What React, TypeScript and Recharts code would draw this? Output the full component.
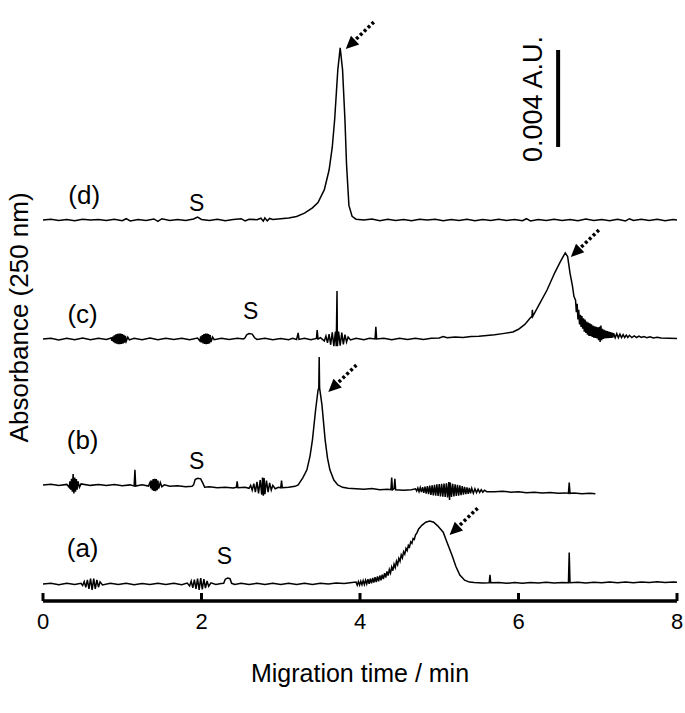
import React from 'react';
import { LineChart, Line, XAxis, YAxis, ReferenceLine, ReferenceDot, Label } from 'recharts';

const FONT = '"Liberation Sans", Arial, Helvetica, sans-serif';

// electropherograms, values in mAU relative to each trace's own baseline
const traceA: [number, number][] = [
  [0, 0], [0.1, 0.03], [0.2, -0.03], [0.3, 0.03], [0.4, -0.02], [0.48, 0.03],
  [0.5, -0.06], [0.52, 0.1], [0.54, -0.14], [0.56, 0.17], [0.58, -0.2], [0.6, 0.22], [0.62, -0.24], [0.64, 0.22],
  [0.66, -0.2], [0.68, 0.17], [0.7, -0.13], [0.72, 0.09], [0.75, -0.04],
  [0.85, 0.03], [0.95, -0.02], [1.05, 0.03], [1.15, -0.03], [1.25, 0.02], [1.35, -0.02], [1.45, 0.03], [1.55, -0.02],
  [1.65, 0.03], [1.75, -0.03], [1.82, 0.04],
  [1.85, -0.08], [1.87, 0.12], [1.89, -0.16], [1.91, 0.18], [1.93, -0.2], [1.95, 0.22], [1.97, -0.24], [1.99, 0.24],
  [2.01, -0.22], [2.03, 0.2], [2.05, -0.17], [2.07, 0.13], [2.09, -0.09], [2.12, 0.05], [2.18, -0.02], [2.25, 0.02],
  [2.28, 0.03], [2.3, 0.2], [2.33, 0.25], [2.36, 0.22], [2.38, 0.03], [2.42, -0.02],
  [2.5, 0.03], [2.6, -0.02], [2.7, 0.03], [2.8, -0.02], [2.9, 0.03], [3.0, -0.02], [3.1, 0.03], [3.2, -0.02],
  [3.3, 0.03], [3.4, -0.02], [3.5, 0.03], [3.6, 0.0], [3.7, 0.04], [3.8, 0.02], [3.9, 0.06],
  [3.95, 0.08], [3.965, -0.05], [3.98, 0.1], [3.995, -0.04], [4.01, 0.12], [4.025, -0.03], [4.04, 0.14], [4.055, -0.02],
  [4.07, 0.16], [4.085, 0.0], [4.1, 0.2], [4.115, 0.01], [4.13, 0.22], [4.145, 0.03], [4.16, 0.25], [4.175, 0.06],
  [4.19, 0.28], [4.205, 0.08], [4.22, 0.31], [4.235, 0.11], [4.25, 0.35], [4.265, 0.15], [4.28, 0.39], [4.295, 0.2],
  [4.31, 0.45], [4.325, 0.27], [4.34, 0.52], [4.355, 0.35], [4.37, 0.6], [4.385, 0.45], [4.4, 0.7], [4.415, 0.55],
  [4.43, 0.82], [4.445, 0.68], [4.46, 0.94], [4.475, 0.8], [4.49, 1.06], [4.505, 0.94], [4.52, 1.2], [4.535, 1.08],
  [4.55, 1.33], [4.565, 1.23], [4.58, 1.47], [4.595, 1.38], [4.61, 1.6], [4.625, 1.53], [4.64, 1.74], [4.655, 1.68],
  [4.67, 1.88], [4.685, 1.84], [4.7, 2.02], [4.72, 2.12], [4.74, 2.27], [4.78, 2.42], [4.83, 2.55], [4.88, 2.6],
  [4.93, 2.55], [4.98, 2.4], [5.05, 2.14], [5.1, 1.7], [5.16, 1.2], [5.21, 0.72], [5.26, 0.37], [5.32, 0.16],
  [5.38, 0.08], [5.44, 0.06], [5.55, 0.04], [5.63, 0.05], [5.64, 0.38], [5.65, 0.05], [5.75, 0.06], [5.85, 0.03],
  [5.95, 0.06], [6.05, 0.03], [6.15, 0.06], [6.25, 0.04], [6.35, 0.07], [6.45, 0.04], [6.55, 0.06], [6.63, 0.05],
  [6.64, 1.3], [6.65, 0.05], [6.75, 0.07], [6.85, 0.04], [6.95, 0.07], [7.05, 0.05], [7.15, 0.08], [7.25, 0.05],
  [7.35, 0.08], [7.45, 0.05], [7.55, 0.08], [7.65, 0.06], [7.75, 0.09], [7.85, 0.06], [7.95, 0.08], [8.0, 0.07],
];

const traceB: [number, number][] = [
  [0, 0], [0.1, 0.03], [0.2, -0.03], [0.3, 0.02],
  [0.33, -0.1], [0.34, 0.15], [0.35, -0.2], [0.36, 0.25], [0.37, -0.28], [0.38, 0.45], [0.39, -0.35], [0.4, 0.3],
  [0.41, -0.28], [0.42, 0.24], [0.43, -0.2], [0.44, 0.15], [0.46, -0.1], [0.48, 0.04],
  [0.6, -0.02], [0.7, 0.02], [0.8, -0.03], [0.9, 0.02], [1.0, -0.04], [1.1, 0.0], [1.15, -0.05], [1.16, 0.62],
  [1.17, -0.05], [1.25, 0.0], [1.33, -0.05],
  [1.35, 0.1], [1.36, -0.14], [1.37, 0.18], [1.38, -0.22], [1.39, 0.24], [1.4, -0.25], [1.41, 0.25], [1.42, -0.26],
  [1.43, 0.24], [1.44, -0.22], [1.45, 0.18], [1.46, -0.15], [1.48, 0.1], [1.5, -0.08], [1.53, 0.0],
  [1.6, -0.06], [1.7, -0.04], [1.8, -0.08], [1.88, -0.06], [1.9, 0.0], [1.92, 0.22], [1.95, 0.27], [1.99, 0.25],
  [2.02, 0.05], [2.04, -0.1], [2.1, -0.08], [2.2, -0.12], [2.3, -0.1], [2.4, -0.13], [2.44, -0.1], [2.45, 0.15],
  [2.46, -0.12], [2.55, -0.1],
  [2.6, -0.14], [2.62, -0.02], [2.64, -0.22], [2.66, 0.05], [2.68, -0.3], [2.7, 0.12], [2.72, -0.35], [2.74, 0.2],
  [2.76, -0.4], [2.77, 0.3], [2.78, -0.45], [2.79, 0.28], [2.8, -0.38], [2.82, 0.18], [2.84, -0.3], [2.86, 0.08],
  [2.88, -0.22], [2.9, -0.02], [2.93, -0.16], [2.97, -0.1],
  [3.0, -0.12], [3.01, 0.18], [3.02, -0.12], [3.1, -0.1], [3.18, -0.06], [3.22, 0.0], [3.28, 0.3], [3.33, 0.62],
  [3.37, 1.2], [3.4, 1.86], [3.44, 3.1], [3.47, 3.9], [3.48, 4.0], [3.485, 5.28], [3.49, 4.0], [3.52, 3.3],
  [3.56, 1.86], [3.59, 1.1], [3.62, 0.62], [3.67, 0.2], [3.72, 0.0], [3.78, -0.1], [3.85, -0.14], [3.95, -0.16],
  [4.05, -0.18], [4.15, -0.15], [4.25, -0.2], [4.35, -0.18], [4.39, -0.2], [4.4, 0.3], [4.41, -0.2], [4.43, -0.15],
  [4.44, 0.25], [4.45, -0.2], [4.55, -0.22], [4.65, -0.2],
  [4.7, -0.16], [4.715, -0.25], [4.73, -0.13], [4.745, -0.28], [4.76, -0.11], [4.775, -0.3], [4.79, -0.09],
  [4.805, -0.33], [4.82, -0.07], [4.835, -0.36], [4.85, -0.05], [4.865, -0.38], [4.88, -0.03], [4.895, -0.41],
  [4.91, -0.02], [4.925, -0.43], [4.94, 0.0], [4.955, -0.45], [4.97, 0.02], [4.985, -0.46], [5.0, 0.03],
  [5.015, -0.48], [5.03, 0.04], [5.045, -0.49], [5.06, 0.05], [5.075, -0.5], [5.09, 0.06], [5.105, -0.52],
  [5.12, 0.12], [5.13, -0.62], [5.14, 0.1], [5.155, -0.5], [5.17, 0.04], [5.185, -0.48], [5.2, 0.02], [5.215, -0.46],
  [5.23, 0.0], [5.245, -0.44], [5.26, -0.02], [5.275, -0.42], [5.29, -0.05], [5.305, -0.4], [5.32, -0.08],
  [5.335, -0.38], [5.35, -0.1], [5.365, -0.37], [5.38, -0.12], [5.395, -0.35], [5.41, -0.14], [5.43, -0.34],
  [5.45, -0.16], [5.47, -0.32], [5.49, -0.18], [5.51, -0.31], [5.53, -0.2], [5.55, -0.3], [5.57, -0.22], [5.6, -0.28],
  [5.7, -0.28], [5.8, -0.26], [5.9, -0.3], [6.0, -0.28], [6.1, -0.32], [6.2, -0.3], [6.3, -0.33], [6.4, -0.31],
  [6.5, -0.34], [6.6, -0.33], [6.63, -0.35], [6.64, 0.1], [6.65, -0.35], [6.7, -0.33], [6.8, -0.37], [6.9, -0.35],
  [6.97, -0.37],
];

const traceC: [number, number][] = [
  [0, 0], [0.1, 0.03], [0.2, -0.04], [0.3, 0.03], [0.4, -0.03], [0.5, 0.04], [0.6, -0.03], [0.7, 0.03], [0.8, -0.02],
  [0.86, 0.04],
  [0.87, -0.08], [0.88, 0.1], [0.89, -0.13], [0.9, 0.15], [0.91, -0.17], [0.92, 0.19], [0.93, -0.2], [0.94, 0.21],
  [0.95, -0.22], [0.96, 0.22], [0.97, -0.22], [0.98, 0.22], [0.99, -0.21], [1.0, 0.2], [1.01, -0.19], [1.02, 0.17],
  [1.03, -0.15], [1.04, 0.13], [1.05, -0.1], [1.07, 0.07], [1.09, -0.04],
  [1.15, 0.03], [1.25, -0.03], [1.35, 0.04], [1.45, -0.03], [1.55, 0.03], [1.65, -0.02], [1.75, 0.03], [1.85, -0.03],
  [1.95, 0.04],
  [1.98, -0.08], [1.99, 0.11], [2.0, -0.14], [2.01, 0.16], [2.02, -0.18], [2.03, 0.2], [2.04, -0.21], [2.05, 0.22],
  [2.06, -0.22], [2.07, 0.22], [2.08, -0.21], [2.09, 0.2], [2.1, -0.18], [2.11, 0.16], [2.12, -0.13], [2.14, 0.08],
  [2.16, -0.03],
  [2.25, 0.03], [2.35, -0.02], [2.45, 0.03], [2.53, 0.0],
  [2.55, 0.05], [2.57, 0.17], [2.6, 0.22], [2.64, 0.2], [2.67, 0.05], [2.7, -0.02],
  [2.8, 0.03], [2.9, -0.03], [3.0, 0.02], [3.1, -0.03], [3.15, 0.03], [3.2, -0.02], [3.22, 0.25], [3.23, -0.02],
  [3.3, 0.03], [3.38, -0.03], [3.45, 0.02], [3.46, 0.37], [3.47, 0.0], [3.5, 0.05],
  [3.55, -0.08], [3.57, 0.12], [3.59, -0.16], [3.61, 0.2], [3.63, -0.24], [3.65, 0.27], [3.67, -0.3], [3.69, 0.3],
  [3.7, -0.3], [3.71, 1.98], [3.715, -0.3], [3.73, 0.3], [3.75, -0.28], [3.77, 0.26], [3.79, -0.22], [3.81, 0.18],
  [3.83, -0.13], [3.85, 0.08], [3.88, -0.04],
  [3.95, 0.03], [4.05, -0.03], [4.12, 0.03], [4.19, 0.0], [4.2, 0.5], [4.21, 0.0], [4.3, 0.03], [4.4, -0.03],
  [4.5, 0.03], [4.6, -0.02], [4.7, 0.03], [4.8, -0.02], [4.9, 0.03], [5.0, 0.04], [5.05, 0.1], [5.1, 0.05],
  [5.2, 0.08], [5.3, 0.06], [5.4, 0.1], [5.5, 0.11], [5.6, 0.14], [5.7, 0.17], [5.8, 0.22], [5.93, 0.29],
  [6.0, 0.4], [6.08, 0.6], [6.15, 0.87], [6.17, 0.93], [6.175, 1.2], [6.18, 0.93], [6.25, 1.35], [6.36, 2.02],
  [6.46, 2.75], [6.53, 3.2], [6.59, 3.55], [6.62, 3.4], [6.65, 2.72], [6.68, 2.2], [6.7, 1.75],
  [6.72, 1.6], [6.73, 1.1], [6.74, 1.45], [6.75, 0.8], [6.76, 1.2], [6.77, 0.6], [6.78, 1.0], [6.79, 0.5],
  [6.8, 0.95], [6.81, 0.42], [6.82, 0.85], [6.83, 0.3], [6.84, 0.8], [6.85, 0.25], [6.86, 0.72], [6.87, 0.18],
  [6.88, 0.68], [6.89, 0.12], [6.9, 0.65], [6.91, 0.12], [6.92, 0.6], [6.93, 0.08], [6.94, 0.55], [6.95, 0.05],
  [6.96, 0.52], [6.97, 0.04], [6.98, 0.5], [6.99, 0.02], [7.0, 0.48], [7.01, -0.05], [7.02, 0.5], [7.03, -0.12],
  [7.04, 0.55], [7.05, -0.05], [7.06, 0.42], [7.07, 0.0], [7.08, 0.38], [7.09, 0.02], [7.1, 0.35], [7.11, 0.03],
  [7.12, 0.32], [7.13, 0.03], [7.14, 0.3], [7.15, 0.04], [7.16, 0.28], [7.17, 0.04], [7.18, 0.26], [7.19, 0.05],
  [7.2, 0.24], [7.22, 0.05], [7.24, 0.22], [7.26, 0.05], [7.28, 0.2], [7.3, 0.06], [7.32, 0.18], [7.34, 0.06],
  [7.36, 0.16], [7.38, 0.06], [7.4, 0.15], [7.43, 0.06], [7.46, 0.13], [7.49, 0.06], [7.52, 0.12], [7.55, 0.06],
  [7.58, 0.1], [7.62, 0.05], [7.66, 0.09], [7.7, 0.04], [7.75, 0.07], [7.8, 0.04], [7.9, 0.03], [8.0, 0.02],
];

const traceD: [number, number][] = [
  [0, 0], [0.1, 0.03], [0.2, -0.02], [0.3, 0.02], [0.4, -0.03], [0.5, 0.03], [0.6, 0], [0.7, 0.02], [0.8, -0.02],
  [0.9, 0.03], [1.0, -0.03], [1.05, 0.05], [1.1, -0.04], [1.2, 0.02], [1.3, -0.02], [1.4, 0.04], [1.45, -0.06],
  [1.5, 0.05], [1.6, -0.02], [1.7, 0.02], [1.8, -0.02], [1.9, 0.04], [1.95, 0.12], [2.0, 0.02], [2.1, -0.02],
  [2.2, 0.03], [2.3, -0.03], [2.4, 0.02], [2.5, 0.05], [2.55, -0.04], [2.6, 0.03], [2.7, 0.01], [2.75, 0.07],
  [2.78, -0.05], [2.8, 0.08], [2.83, -0.04], [2.86, 0.06], [2.9, 0.02], [3.0, 0.05], [3.1, 0.08], [3.2, 0.14],
  [3.3, 0.28], [3.4, 0.5], [3.47, 0.72], [3.55, 1.25], [3.61, 2.06], [3.65, 3.0], [3.68, 4.13], [3.72, 6.19],
  [3.75, 7.1], [3.78, 6.19], [3.81, 4.13], [3.83, 2.3], [3.86, 0.6], [3.9, 0.15], [3.95, 0.03], [4.05, 0.0],
  [4.15, 0.04], [4.25, -0.03], [4.35, 0.03], [4.45, -0.02], [4.55, 0.02], [4.65, -0.03], [4.75, 0.03], [4.85, 0],
  [4.95, 0.03], [5.05, -0.03], [5.15, 0.02], [5.25, -0.02], [5.35, 0.03], [5.45, -0.03], [5.55, 0.02], [5.65, -0.02],
  [5.75, 0.03], [5.85, -0.02], [5.95, 0.02], [6.05, -0.03], [6.1, 0.05], [6.15, -0.04], [6.25, 0.02], [6.35, -0.02],
  [6.45, 0.03], [6.55, -0.02], [6.65, 0.02], [6.75, -0.03], [6.85, 0.04], [6.95, -0.02], [7.05, 0.02], [7.15, -0.03],
  [7.25, 0.03], [7.35, -0.04], [7.4, 0.05], [7.45, -0.02], [7.55, 0.03], [7.65, -0.02], [7.75, 0.03], [7.85, -0.03],
  [7.95, 0.02], [8.0, 0],
];

// vertical stacking of the traces (mAU)
const OFFSETS = [0.7, 4.79, 10.81, 15.72];
const TRACES = [traceA, traceB, traceC, traceD];

const X_TICKS = [0, 2, 4, 6, 8];

const TRACE_LABELS = [
  { t: 0.5, v: 2.18, text: '(a)' },
  { t: 0.5, v: 6.66, text: '(b)' },
  { t: 0.5, v: 11.84, text: '(c)' },
  { t: 0.52, v: 16.75, text: '(d)' },
];

const S_LABELS = [
  { t: 2.29, v: 1.86, text: 'S' },
  { t: 1.94, v: 5.78, text: 'S' },
  { t: 2.62, v: 11.96, text: 'S' },
  { t: 1.94, v: 16.42, text: 'S' },
];

// arrow tips pointing at the analyte peaks
const ARROWS = [
  { t: 5.13, v: 2.72 },
  { t: 3.6, v: 8.62 },
  { t: 6.66, v: 14.19 },
  { t: 3.82, v: 22.77 },
];

// 0.004 A.U. scale bar
const SCALE_BAR = { t: 6.5, from: 18.73, to: 22.73 };
const SCALE_LABEL = { t: 6.18, v: 20.71, text: '0.004 A.U.' };
const Y_TITLE = { t: -0.3, v: 11.7, text: 'Absorbance (250 nm)' };

const rows = TRACES.map((tr, i) => tr.map(([t, v]) => ({ t, v: +(v + OFFSETS[i]).toFixed(3) })));

const textShape = (text: string, size: number, rotate = false) => (p: any) => (
  <text
    x={p.cx}
    y={p.cy}
    textAnchor="middle"
    dominantBaseline="central"
    fontSize={size}
    fontFamily={FONT}
    fill="#000"
    transform={rotate ? `rotate(-90 ${p.cx} ${p.cy})` : undefined}
  >
    {text}
  </text>
);

const arrowShape = (p: any) => {
  const ux = 0.72, uy = -0.69;
  const nx = 0.69, ny = 0.72;
  const x = p.cx, y = p.cy;
  const bx = x + 13 * ux, by = y + 13 * uy;
  return (
    <g>
      <polygon
        points={`${x},${y} ${bx + 6 * nx},${by + 6 * ny} ${bx - 6 * nx},${by - 6 * ny}`}
        fill="#000"
      />
      <line x1={bx + 1.5 * ux} y1={by + 1.5 * uy} x2={x + 39 * ux} y2={y + 39 * uy}
        stroke="#000" strokeWidth={3.5} strokeDasharray="3 2.4" />
    </g>
  );
};

export default function App() {
  return (
    <div style={{ position: 'absolute', left: 0, top: 0, background: '#fff' }}>
      <LineChart width={685} height={713} margin={{ top: 2, right: 8, bottom: 82, left: 43 }}>
        <XAxis
          type="number"
          dataKey="t"
          domain={[0, 8]}
          ticks={X_TICKS}
          allowDuplicatedCategory={false}
          height={30}
          axisLine={{ stroke: '#000', strokeWidth: 3.5 }}
          tickLine={{ stroke: '#000', strokeWidth: 3 }}
          tickSize={-8}
          tickMargin={20}
          tick={{ fontSize: 22, fill: '#000', fontFamily: FONT }}
        >
          <Label value="Migration time / min" position="bottom" offset={33}
            style={{ fontSize: 25, fill: '#000', fontFamily: FONT }} />
        </XAxis>
        <YAxis
          type="number"
          domain={[0, 24.71]}
          width={0}
          tick={false}
          tickLine={false}
          axisLine={{ stroke: '#000', strokeWidth: 4 }}
        />
        {rows.map((d, i) => (
          <Line
            key={i}
            data={d}
            dataKey="v"
            type="linear"
            stroke="#000"
            strokeWidth={1.5}
            dot={false}
            activeDot={false}
            isAnimationActive={false}
          />
        ))}
        <ReferenceLine
          segment={[{ x: SCALE_BAR.t, y: SCALE_BAR.from }, { x: SCALE_BAR.t, y: SCALE_BAR.to }]}
          stroke="#000"
          strokeWidth={4}
        />
        <ReferenceDot x={SCALE_LABEL.t} y={SCALE_LABEL.v} r={1} shape={textShape(SCALE_LABEL.text, 27, true)} />
        <ReferenceDot x={Y_TITLE.t} y={Y_TITLE.v} r={1} ifOverflow="visible"
          shape={textShape(Y_TITLE.text, 26, true)} />
        {TRACE_LABELS.map((l, i) => (
          <ReferenceDot key={'tl' + i} x={l.t} y={l.v} r={1} shape={textShape(l.text, 26)} />
        ))}
        {S_LABELS.map((l, i) => (
          <ReferenceDot key={'s' + i} x={l.t} y={l.v} r={1} shape={textShape(l.text, 23)} />
        ))}
        {ARROWS.map((a, i) => (
          <ReferenceDot key={'ar' + i} x={a.t} y={a.v} r={1} shape={arrowShape} />
        ))}
      </LineChart>
    </div>
  );
}
